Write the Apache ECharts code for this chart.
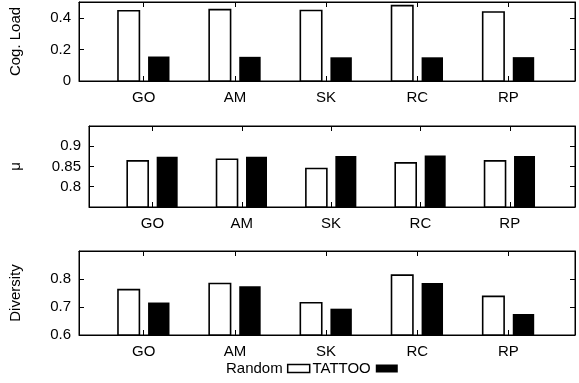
<!DOCTYPE html>
<html>
<head>
<meta charset="utf-8">
<script src="https://cdn.jsdelivr.net/npm/echarts@6/dist/echarts.min.js"></script>
<style>html,body{margin:0;padding:0;background:#fff}#c{width:579px;height:383px}</style>
</head>
<body>
<div id="c"></div>
<script>
const categories = ['GO', 'AM', 'SK', 'RC', 'RP'];
const seriesNames = ['Random', 'TATTOO'];
const cogRandom = [0.445, 0.452, 0.446, 0.477, 0.437];
const cogTattoo = [0.155, 0.153, 0.150, 0.150, 0.151];
const muRandom = [0.864, 0.868, 0.845, 0.859, 0.864];
const muTattoo = [0.874, 0.874, 0.876, 0.877, 0.876];
const divRandom = [0.762, 0.784, 0.715, 0.814, 0.738];
const divTattoo = [0.716, 0.774, 0.694, 0.786, 0.675];
const cogTicks = [0, 0.2, 0.4];
const muTicks = [0.8, 0.85, 0.9];
const divTicks = [0.6, 0.7, 0.8];
const yTitles = ['Cog. Load', '\u03bc', 'Diversity'];

const FONT = 'Liberation Sans, Arial, Helvetica, sans-serif';
const FS = 15;
const chart = echarts.init(document.getElementById('c'), null, {renderer: 'canvas'});

const panels = [
  {grid: {left: 79, top: 2, width: 496, height: 79}, ymin: 0, ymax: 0.5, ticks: cogTicks, r: cogRandom, t: cogTattoo, gap: 56},
  {grid: {left: 88, top: 126, width: 487, height: 81}, ymin: 0.75, ymax: 0.95, ticks: muTicks, r: muRandom, t: muTattoo, gap: 66},
  {grid: {left: 79, top: 251, width: 496, height: 84}, ymin: 0.6, ymax: 0.9, ticks: divTicks, r: divRandom, t: divTattoo, gap: 56}
];
const catIdx = categories.map((_, i) => i);
const XMIN = -0.71, XMAX = 4.73;
const BW = 0.235, OFF = 0.165;

const grids = [], xAxes = [], yAxes = [], series = [];
panels.forEach((p, k) => {
  grids.push(Object.assign({show: true, borderColor: '#000', borderWidth: 1, backgroundColor: 'transparent'}, p.grid));
  const xBase = {
    type: 'value', gridIndex: k, min: XMIN, max: XMAX,
    splitLine: {show: false},
    axisLine: {show: true, onZero: false, lineStyle: {color: '#000', width: 1}},
    axisTick: {show: true, inside: true, length: 5, customValues: catIdx, lineStyle: {color: '#000'}}
  };
  xAxes.push(Object.assign({}, xBase, {
    position: 'bottom',
    axisLabel: {show: true, customValues: catIdx, formatter: v => categories[Math.round(v)], color: '#000', fontFamily: FONT, fontSize: FS, margin: 9}
  }));
  xAxes.push(Object.assign({}, xBase, {position: 'top', axisLabel: {show: false}}));
  const yBase = {
    type: 'value', gridIndex: k, min: p.ymin, max: p.ymax,
    splitLine: {show: false},
    axisLine: {show: true, onZero: false, lineStyle: {color: '#000', width: 1}},
    axisTick: {show: true, inside: true, length: 5, customValues: p.ticks, lineStyle: {color: '#000'}}
  };
  yAxes.push(Object.assign({}, yBase, {
    position: 'left',
    name: yTitles[k], nameLocation: 'middle', nameGap: p.gap,
    nameTextStyle: {color: '#000', fontFamily: FONT, fontSize: FS},
    axisLabel: {show: true, customValues: p.ticks, color: '#000', fontFamily: FONT, fontSize: FS, margin: 8}
  }));
  yAxes.push(Object.assign({}, yBase, {position: 'right', axisLabel: {show: false}}));

  [[p.r, -OFF, '#fff', '#000', 1.6, seriesNames[0]], [p.t, OFF, '#000', '#000', 0, seriesNames[1]]].forEach(([vals, off, fill, stroke, lw, name]) => {
    series.push({
      type: 'custom', name: name,
      xAxisIndex: 2 * k, yAxisIndex: 2 * k,
      data: vals.map((v, i) => [i, v]),
      encode: {x: 0, y: 1},
      itemStyle: {color: fill, borderColor: stroke, borderWidth: lw},
      renderItem: (params, api) => {
        const x = api.value(0) + off;
        const y = api.value(1);
        const a = api.coord([x - BW / 2, y]);
        const b = api.coord([x + BW / 2, p.ymin]);
        return {
          type: 'rect',
          shape: {x: a[0], y: a[1], width: b[0] - a[0], height: b[1] - a[1]},
          style: {fill: fill, stroke: lw ? stroke : null, lineWidth: lw}
        };
      }
    });
  });
});

chart.setOption({
  animation: false,
  backgroundColor: '#fff',
  textStyle: {fontFamily: FONT, color: '#000'},
  grid: grids,
  xAxis: xAxes,
  yAxis: yAxes,
  legend: {
    data: [
      {name: seriesNames[0], itemStyle: {color: '#fff', borderColor: '#000', borderWidth: 1.5}},
      {name: seriesNames[1], itemStyle: {color: '#000', borderWidth: 0}}
    ],
    icon: 'rect', itemWidth: 22, itemHeight: 8, itemGap: 2, align: 'right',
    left: 226, top: 361, padding: 0,
    textStyle: {color: '#000', fontFamily: FONT, fontSize: FS, padding: [0, 0, 0, 0]},
    selectedMode: false
  },
  series: series
});
</script>
</body>
</html>
